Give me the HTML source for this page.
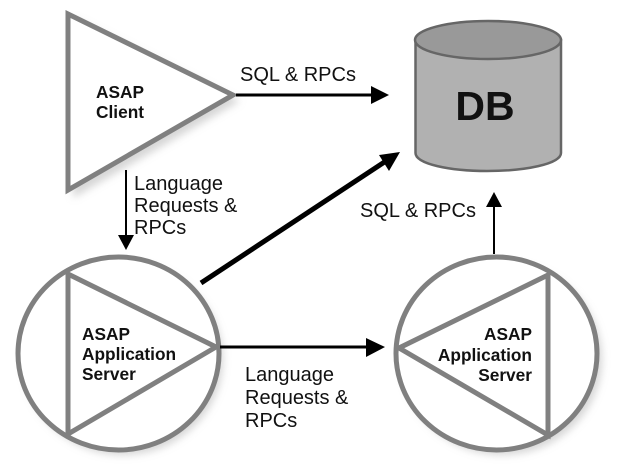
<!DOCTYPE html>
<html><head><meta charset="utf-8"><style>
html,body{margin:0;padding:0;background:#fff}
svg{display:block}
text{font-family:"Liberation Sans",sans-serif;fill:#111}
.t{font-size:20px}
.b{font-size:17.3px;font-weight:bold}
</style></head><body>
<svg width="619" height="467" viewBox="0 0 619 467" xmlns="http://www.w3.org/2000/svg">
<defs><filter id="s" x="-20%" y="-20%" width="140%" height="140%"><feGaussianBlur stdDeviation="4"/></filter></defs>
<g filter="url(#s)" fill="#bbb" opacity=".6">
<polygon points="73,18 240,101 73,198"/>
<ellipse cx="123" cy="359" rx="100" ry="96"/>
<ellipse cx="502" cy="359" rx="100" ry="96"/>
</g>
<polygon points="68,14 233,95 68,190" fill="#fff" stroke="#808080" stroke-width="5"/>
<ellipse cx="118.5" cy="353.5" rx="100.5" ry="96.5" fill="#fff" stroke="#808080" stroke-width="5"/>
<polygon points="68,274 216,347 68,434" fill="none" stroke="#808080" stroke-width="5"/>
<ellipse cx="496.5" cy="353.5" rx="100.5" ry="96.5" fill="#fff" stroke="#808080" stroke-width="5"/>
<polygon points="548,275 399,348 548,435" fill="none" stroke="#808080" stroke-width="5"/>
<path d="M415.5,40 V153 C415.5,164 450,171 487,171 C525,171 561,164 561,153 V40 Z" fill="#b1b1b1" stroke="#666" stroke-width="2.5"/>
<ellipse cx="488" cy="40" rx="73" ry="19" fill="#999" stroke="#666" stroke-width="2.5"/>
<g fill="#000" stroke="#000">
<line x1="236" y1="95" x2="372" y2="95" stroke-width="3"/>
<polygon points="371,86 389,95 371,104" stroke="none"/>
<line x1="126" y1="170" x2="126" y2="237" stroke-width="2"/>
<polygon points="118,235 134,235 126,250" stroke="none"/>
<line x1="201" y1="283" x2="386" y2="161" stroke-width="5"/>
<polygon points="400,152 379,155 389,171" stroke="none"/>
<line x1="220" y1="347" x2="367" y2="347" stroke-width="3"/>
<polygon points="366,338 385,347 366,357" stroke="none"/>
<line x1="494" y1="254" x2="494" y2="206" stroke-width="2"/>
<polygon points="486,207 502,207 494,192" stroke="none"/>
</g>
<text class="t" x="240" y="81">SQL &amp; RPCs</text>
<text class="t" x="360" y="217">SQL &amp; RPCs</text>
<text class="t" x="134" y="190">Language</text>
<text class="t" x="134" y="212">Requests &amp;</text>
<text class="t" x="134" y="234">RPCs</text>
<text class="t" x="245" y="381">Language</text>
<text class="t" x="245" y="404">Requests &amp;</text>
<text class="t" x="245" y="427">RPCs</text>
<text class="b" x="96" y="98">ASAP</text>
<text class="b" x="96" y="118">Client</text>
<text class="b" x="82" y="340">ASAP</text>
<text class="b" x="82" y="360">Application</text>
<text class="b" x="82" y="380">Server</text>
<text class="b" x="532" y="340" text-anchor="end">ASAP</text>
<text class="b" x="532" y="361" text-anchor="end">Application</text>
<text class="b" x="532" y="381" text-anchor="end">Server</text>
<text x="485" y="120" text-anchor="middle" font-size="41" font-weight="bold">DB</text>
</svg>
</body></html>
